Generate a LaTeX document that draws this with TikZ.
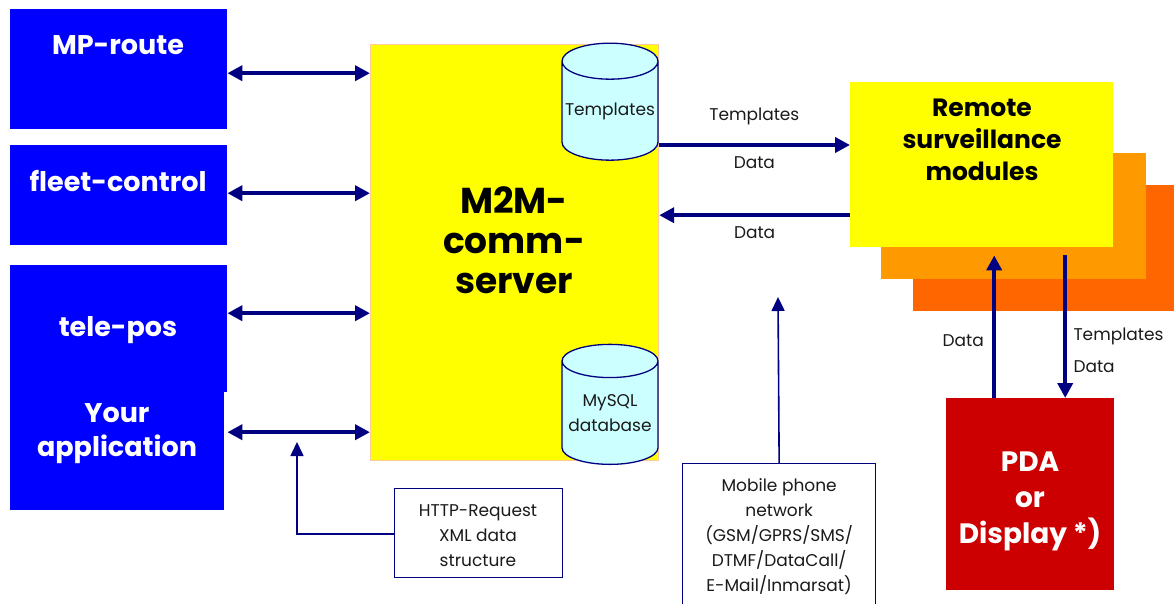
\documentclass[tikz,border=0pt]{standalone}
\usepackage{fontspec}
\setmainfont{Poppins}
\usetikzlibrary{shapes, arrows.meta, calc, positioning}
\definecolor{appblue}{HTML}{0000FF}
\definecolor{navy}{HTML}{000080}
\definecolor{srvyellow}{HTML}{FFFF00}
\definecolor{peach}{HTML}{FFCC99}
\definecolor{dbcyan}{HTML}{CCFFFF}
\definecolor{orangeA}{HTML}{FF9900}
\definecolor{orangeB}{HTML}{FF6600}
\definecolor{pdared}{HTML}{CC0000}
\definecolor{txtgray}{HTML}{1A1A1A}

\begin{document}
\begin{tikzpicture}[x=1pt, y=-1pt,
            box/.style={rectangle, inner sep=0pt, anchor=north west},
            app box/.style={box, fill=appblue},
            app label/.style={font=\fontsize{27}{34}\selectfont\bfseries, text=white, align=center},
            small text/.style={font=\fontsize{17}{25}\selectfont, text=txtgray, align=center},
            db/.style={cylinder, shape border rotate=90, aspect=0.4, draw=navy, fill=dbcyan,
                line width=1.3pt, minimum width=96pt, minimum height=117pt, inner sep=0pt, small text},
            info box/.style={box, draw=navy, fill=white, line width=1.3pt, small text},
            link/.style={navy, line width=4pt, -{Triangle[length=15pt,width=15pt]}},
            dlink/.style={link, {Triangle[length=15pt,width=15pt]}-{Triangle[length=15pt,width=15pt]}},
            thin link/.style={navy, line width=1.6pt, -{Triangle[length=14pt,width=13pt]}}]
            
        \clip (0,0) rectangle (1174,604);

        % applications on the left
        \node[app box, minimum width=217pt, minimum height=120pt] (mp) at (10,9) {};
        \node[app box, minimum width=217pt, minimum height=100pt] (fc) at (10,145) {};
        \node[app box, minimum width=217pt, minimum height=127pt] (tp) at (10,265) {};
        \node[app box, minimum width=214pt, minimum height=118pt] (ya) at (10,392) {};
        \node[app label] (mpl) at (118,45) {MP-route};
        \node[app label] (fcl) at (118,181) {fleet-control};
        \node[app label] (tpl) at (118,330) {tele-pos};
        \node[app label] (yal) at (117,434) {Your\\application};

        % server
        \node[box, fill=srvyellow, draw=peach, line width=1.2pt,
              minimum width=288pt, minimum height=416pt] (srv) at (370,44) {};
        \node[font=\fontsize{36}{40}\selectfont\bfseries, align=center] (srvl) at (514,240) {M2M-\\comm-\\server};
        \node[db] (tmpl) at (610,111) {\raisebox{-6pt}{Templates}};
        \node[db, minimum height=120pt] (sql) at (610,413) {MySQL\\database};

        % remote modules
        \node[box, fill=orangeB, minimum width=261pt, minimum height=126pt] (rsm2) at (913,185) {};
        \node[box, fill=orangeA, minimum width=265pt, minimum height=126pt] (rsm1) at (881,153) {};
        \node[box, fill=srvyellow, minimum width=263pt, minimum height=165pt] (rsm) at (850,82) {};
        \node[font=\fontsize{25}{32}\selectfont\bfseries, align=center] (rsml) at (982,140)
            {Remote\\surveillance\\modules};

        \node[box, fill=pdared, minimum width=168pt, minimum height=192pt] (pda) at (946,398) {};
        \node[font=\fontsize{28}{36}\selectfont\bfseries, text=white, align=center] (pdal) at (1030,501)
            {PDA\\or\\Display *)};

        % info boxes
        \node[info box, minimum width=168pt, minimum height=89pt] (http) at (394,488) {};
        \node[small text] (httpl) at (478,536) {HTTP-Request\\XML data\\structure};
        \node[info box, minimum width=193pt, minimum height=146pt] (mob) at (682,463)
            {Mobile phone\\network\\(GSM/GPRS/SMS/\\DTMF/DataCall/\\E-Mail/Inmarsat)};
        \coordinate (httptip) at (297,442);
        \coordinate (mobtip) at (778,297);

        % connectors
        \draw[dlink] ([yshift=-4pt]mp.east) -- ([yshift=-4pt]mp.east -| srv.west);
        \draw[dlink] ([yshift=2pt]fc.east) -- ([yshift=2pt]fc.east -| srv.west);
        \draw[dlink] ([yshift=15.5pt]tp.east) -- ([yshift=15.5pt]tp.east -| srv.west);
        \draw[dlink] ([yshift=19pt,xshift=3pt]ya.east) -- ([yshift=19pt]ya.east -| srv.west);

        \draw[link] ([yshift=-34pt]tmpl.east) -- ([yshift=-34pt]tmpl.east -| rsm.west)
            node[pos=0.5, above=15pt, small text] (lt) {Templates}
            node[pos=0.5, below=6pt, small text] (ld1) {Data};
        \draw[link] ([yshift=-50.5pt]rsm.west) -- ([yshift=-50.5pt]rsm.west -| srv.east)
            node[pos=0.5, below=6pt, small text] (ld2) {Data};

        \draw[link, shorten >=8pt] ([xshift=-36pt]pda.north) -- ([xshift=-36pt]pda.north |- rsm.south)
            node[pos=0.38, left=5pt, small text] (ld3) {Data};
        \draw[link, shorten <=8pt] ([xshift=35pt]pda.north |- rsm.south) -- ([xshift=35pt]pda.north)
            node[pos=0.68, right=3pt, small text, align=left, font=\fontsize{17}{32}\selectfont] (ltd)
            {Templates\\Data};

        \draw[thin link] ([yshift=-1pt]http.west) -| (httptip);
        \draw[thin link] (mob.north) -- (mobtip);
        
        \end{tikzpicture}
\end{document}
